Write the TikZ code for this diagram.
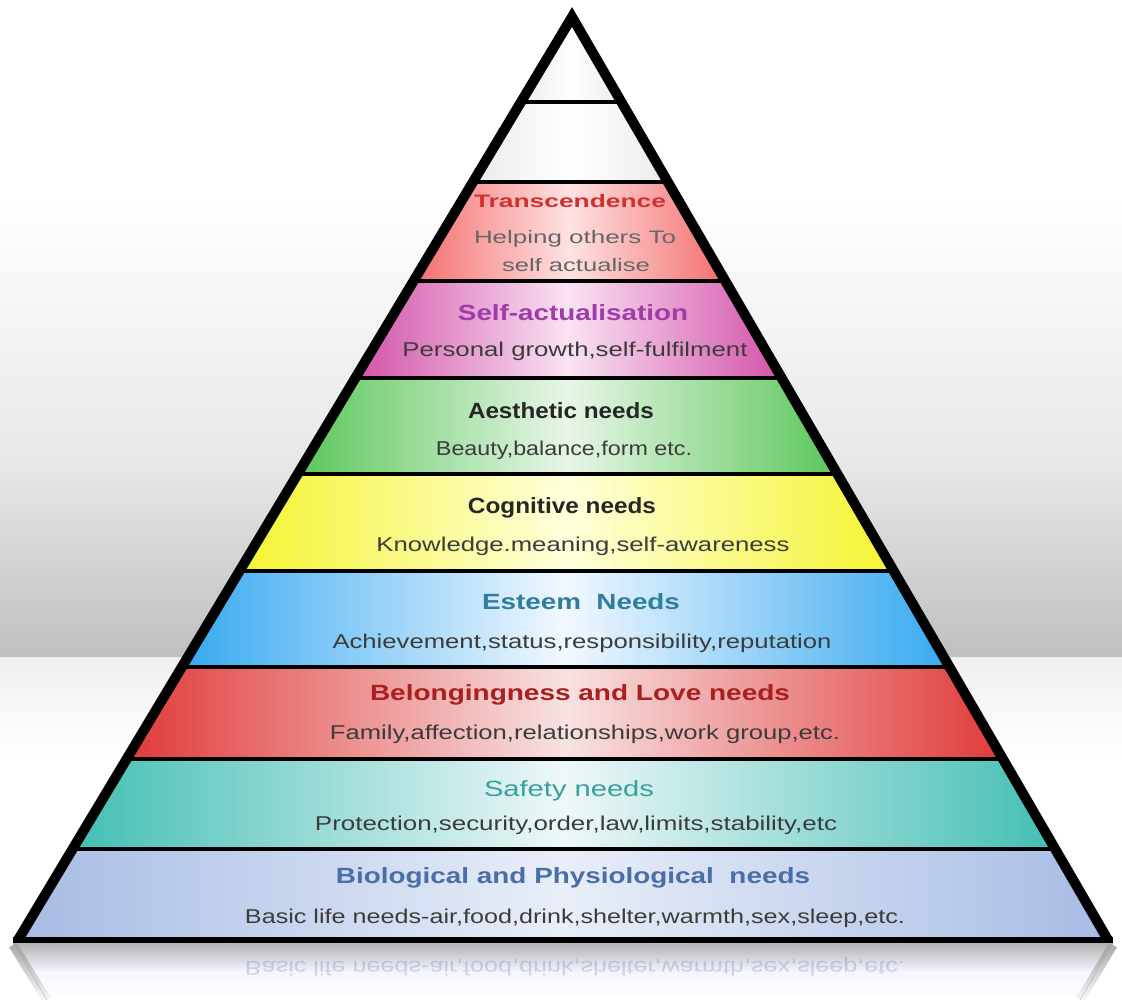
\documentclass[tikz,border=0pt]{standalone}
\usepackage{fontspec}
\setmainfont{Liberation Sans}
\usepackage{graphicx}
\usetikzlibrary{fadings}
\newcommand{\fitw}[2]{\resizebox{#1pt}{\height}{#2}}
\definecolor{transE}{HTML}{F26B6B}\definecolor{transM}{HTML}{FFE2E2}
\definecolor{selfE}{HTML}{D24FA8}\definecolor{selfM}{HTML}{F9E3F2}
\definecolor{aesE}{HTML}{58C658}\definecolor{aesM}{HTML}{E8F6E8}
\definecolor{cogE}{HTML}{F4F42E}\definecolor{cogM}{HTML}{FFFFDC}
\definecolor{estE}{HTML}{34A8F0}\definecolor{estM}{HTML}{F2F8FF}
\definecolor{belE}{HTML}{E03838}\definecolor{belM}{HTML}{F8E2E2}
\definecolor{safE}{HTML}{42BEB3}\definecolor{safM}{HTML}{EEF8F8}
\definecolor{bioE}{HTML}{A6BBE4}\definecolor{bioM}{HTML}{E9EEF8}
\definecolor{whE}{HTML}{EAEAEA}\definecolor{whM}{HTML}{FFFFFF}
\definecolor{tTrans}{HTML}{D03030}\definecolor{tSelf}{HTML}{A03CA8}
\definecolor{tEst}{HTML}{2F7E9E}\definecolor{tBel}{HTML}{A82020}
\definecolor{tSaf}{HTML}{38A0A0}\definecolor{tBio}{HTML}{4A6FA8}
\definecolor{body}{HTML}{3C3C3C}
\tikzset{
  band/.style n args={2}{left color=#1, right color=#1, middle color=#2},
  ttl/.style={anchor=base, inner sep=0pt, font=\fontsize{22}{24}\selectfont\bfseries},
  bdy/.style={anchor=base, inner sep=0pt, font=\fontsize{20}{22}\selectfont, text=body},
  divider/.style={line width=4pt, black},
}
\begin{document}
\begin{tikzpicture}[x=1pt,y=-1pt]
\useasboundingbox (0,0) rectangle (1122,1000);
% background
\fill[white] (0,0) rectangle (1122,200);
\fill[top color=white, bottom color=black!9] (0,199) rectangle (1122,460);
\fill[top color=black!9, bottom color=black!25] (0,459) rectangle (1122,658);
\fill[top color=black!6, bottom color=white] (0,657) rectangle (1122,760);
\fill[white] (0,759) rectangle (1122,1000);
% reflection
\fill[top color=black!30, bottom color=white, middle color=blue!4!white] (13,943) -- (1113,943) -- (1080,1000) -- (47,1000) -- cycle;
\draw[line width=9pt, black!35, path fading=south] (13,945) -- (47,1000);
\draw[line width=9pt, black!35, path fading=south] (1113,945) -- (1080,1000);
\node[anchor=base, inner sep=0pt, font=\fontsize{20}{22}\selectfont, text=tBio, opacity=0.25, yscale=-1] (refl) at (575,961) {\fitw{660}{Basic life needs-air,food,drink,shelter,warmth,sex,sleep,etc.}};
% bands
\begin{scope}
\clip (572,8) -- (13,943) -- (1113,943) -- cycle;
\fill[band={whE}{whM}] (516,0) rectangle (626,102);
\fill[band={whE}{whM}] (468,102) rectangle (673,182);
\fill[band={transE}{transM}] (409,182) rectangle (730,281);
\fill[band={selfE}{selfM}] (351,281) rectangle (786,378);
\fill[band={aesE}{aesM}] (293,378) rectangle (842,474);
\fill[band={cogE}{cogM}] (235,474) rectangle (898,571);
\fill[band={estE}{estM}] (178,571) rectangle (953,667);
\fill[band={belE}{belM}] (123,667) rectangle (1007,759);
\fill[band={safE}{safM}] (69,759) rectangle (1059,849);
\fill[band={bioE}{bioM}] (14,849) rectangle (1112,943);
\foreach \yy in {102,182,281,378,474,571,667,759,849}
  \draw[divider] (0,\yy) -- (1122,\yy);
\end{scope}
% outline
\draw[line width=10pt, line join=miter, miter limit=20] (18,940) -- (572,17) -- (1108,940);
\draw[line width=6pt] (13,940) -- (1113,940);
% texts
\node[ttl, font=\fontsize{18}{20}\selectfont\bfseries, text=tTrans] (n1t) at (570,208) {\fitw{192}{Transcendence}};
\node[bdy, font=\fontsize{18}{20}\selectfont, text=black!60] (n1a) at (575,244) {\fitw{202}{Helping others To}};
\node[bdy, font=\fontsize{18}{20}\selectfont, text=black!60] (n1b) at (576,272) {\fitw{148}{self actualise}};
\node[ttl, text=tSelf] (n2t) at (573,321) {\fitw{230}{Self-actualisation}};
\node[bdy] (n2b) at (575,356) {\fitw{345}{Personal growth,self-fulfilment}};
\node[ttl, text=black!85] (n3t) at (561,418) {\fitw{186}{Aesthetic needs}};
\node[bdy] (n3b) at (564,455) {\fitw{256}{Beauty,balance,form etc.}};
\node[ttl, text=black!85] (n4t) at (562,513) {\fitw{188}{Cognitive needs}};
\node[bdy] (n4b) at (583,551) {\fitw{413}{Knowledge.meaning,self-awareness}};
\node[ttl, text=tEst] (n5t) at (581,609) {\fitw{198}{Esteem\ \ Needs}};
\node[bdy] (n5b) at (582,648) {\fitw{499}{Achievement,status,responsibility,reputation}};
\node[ttl, text=tBel] (n6t) at (580,700) {\fitw{420}{Belongingness and Love needs}};
\node[bdy] (n6b) at (585,739) {\fitw{510}{Family,affection,relationships,work group,etc.}};
\node[ttl, font=\fontsize{22}{24}\selectfont, text=tSaf] (n7t) at (569,796) {\fitw{170}{Safety needs}};
\node[bdy] (n7b) at (576,830) {\fitw{522}{Protection,security,order,law,limits,stability,etc}};
\node[ttl, text=tBio] (n8t) at (573,883) {\fitw{474}{Biological and Physiological\ \ needs}};
\node[bdy] (n8b) at (575,923) {\fitw{660}{Basic life needs-air,food,drink,shelter,warmth,sex,sleep,etc.}};
\end{tikzpicture}
\end{document}
